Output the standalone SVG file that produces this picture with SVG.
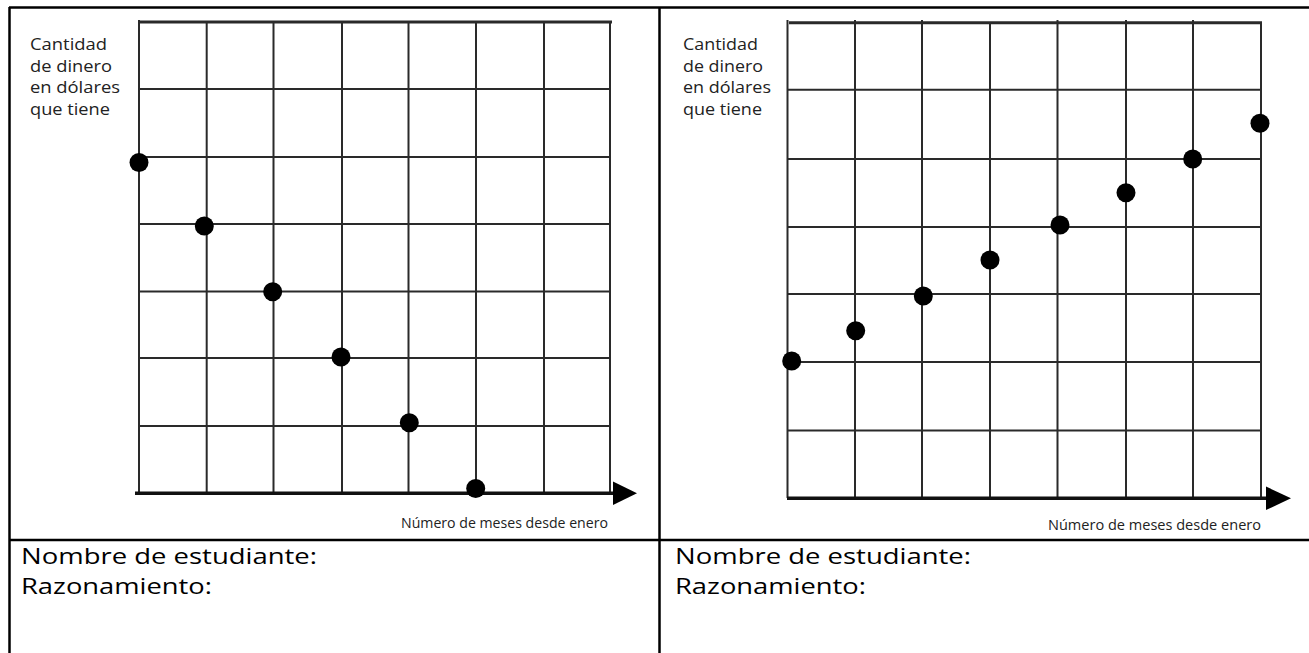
<svg xmlns="http://www.w3.org/2000/svg" width="1309" height="653" viewBox="0 0 1309 653">
<style>
.bg{fill:#ffffff}
.border{stroke:#000;stroke-width:2.5;fill:none}
.grid{stroke:#2a2a2a;stroke-width:2;fill:none}
.top{stroke:#2a2a2a;stroke-width:3;fill:none}
.axis{stroke:#111;stroke-width:3.5;fill:none}
.dot{fill:#000}
.lbl{font-family:"Open Sans","Noto Sans","DejaVu Sans",sans-serif;font-size:15.5px;fill:#222}
.xl{font-family:"Open Sans","Noto Sans","DejaVu Sans",sans-serif;font-size:14.5px;fill:#222}
.cell{font-family:"Open Sans","Noto Sans","DejaVu Sans",sans-serif;font-size:22px;fill:#000}
</style>
<rect class="bg" x="0" y="0" width="1309" height="653"/>

<g id="table">
<line class="border" x1="9" y1="7.5" x2="1309" y2="7.5"/>
<line class="border" x1="9.5" y1="7" x2="9.5" y2="653"/>
<line class="border" x1="659.5" y1="7" x2="659.5" y2="653"/>
<line class="border" x1="9" y1="540" x2="1309" y2="540"/>
</g>

<g id="graph-left">
<g id="grid-left">
<line class="top" x1="140" y1="22" x2="612" y2="22"/>
<line class="grid" x1="139" y1="89" x2="610" y2="89"/>
<line class="grid" x1="139" y1="157" x2="610" y2="157"/>
<line class="grid" x1="139" y1="224" x2="610" y2="224"/>
<line class="grid" x1="139" y1="291.5" x2="610" y2="291.5"/>
<line class="grid" x1="139" y1="358" x2="610" y2="358"/>
<line class="grid" x1="139" y1="426" x2="610" y2="426"/>
<line class="grid" x1="139" y1="20" x2="139" y2="493"/>
<line class="grid" x1="206.7" y1="22" x2="206.7" y2="493"/>
<line class="grid" x1="273.5" y1="22" x2="273.5" y2="493"/>
<line class="grid" x1="342" y1="22" x2="342" y2="493"/>
<line class="grid" x1="408.5" y1="22" x2="408.5" y2="493"/>
<line class="grid" x1="476" y1="22" x2="476" y2="493"/>
<line class="grid" x1="544" y1="22" x2="544" y2="493"/>
<line class="grid" x1="610" y1="22" x2="610" y2="493"/>
</g>
<g id="axis-left">
<line class="axis" x1="135" y1="493.3" x2="615" y2="493.3"/>
<path d="M613,481.5 L637,493.3 L613,505 Z" fill="#000"/>
</g>
<g id="dots-left">
<circle class="dot" cx="139" cy="162.5" r="9.5"/>
<circle class="dot" cx="204.3" cy="226" r="9.5"/>
<circle class="dot" cx="272.7" cy="291.7" r="9.5"/>
<circle class="dot" cx="341" cy="357" r="9.5"/>
<circle class="dot" cx="409.3" cy="422.7" r="9.5"/>
<circle class="dot" cx="475.7" cy="488.5" r="9.5"/>
</g>
<g id="labels-left">
<text class="lbl" x="30" y="50" textLength="77" lengthAdjust="spacingAndGlyphs">Cantidad</text>
<text class="lbl" x="30" y="71.5" textLength="82" lengthAdjust="spacingAndGlyphs">de dinero</text>
<text class="lbl" x="30" y="93" textLength="90" lengthAdjust="spacingAndGlyphs">en dólares</text>
<text class="lbl" x="30" y="114.5" textLength="80" lengthAdjust="spacingAndGlyphs">que tiene</text>
<text class="xl" x="608" y="528" text-anchor="end" textLength="207" lengthAdjust="spacingAndGlyphs">Número de meses desde enero</text>
</g>
</g>

<g id="graph-right">
<g id="grid-right">
<line class="top" x1="789" y1="22.7" x2="1262" y2="22.7"/>
<line class="grid" x1="788" y1="89.7" x2="1261" y2="89.7"/>
<line class="grid" x1="788" y1="159" x2="1261" y2="159"/>
<line class="grid" x1="788" y1="227" x2="1261" y2="227"/>
<line class="grid" x1="788" y1="294" x2="1261" y2="294"/>
<line class="grid" x1="788" y1="362" x2="1261" y2="362"/>
<line class="grid" x1="788" y1="430.5" x2="1261" y2="430.5"/>
<line class="grid" x1="787.5" y1="20" x2="787.5" y2="498"/>
<line class="grid" x1="855" y1="20" x2="855" y2="498"/>
<line class="grid" x1="922" y1="20" x2="922" y2="498"/>
<line class="grid" x1="990" y1="22" x2="990" y2="498"/>
<line class="grid" x1="1057.5" y1="20" x2="1057.5" y2="498"/>
<line class="grid" x1="1126" y1="20" x2="1126" y2="498"/>
<line class="grid" x1="1193" y1="20" x2="1193" y2="498"/>
<line class="grid" x1="1261" y1="22" x2="1261" y2="498"/>
</g>
<g id="axis-right">
<line class="axis" x1="787" y1="498.3" x2="1268" y2="498.3"/>
<path d="M1266,486.5 L1291,498.3 L1266,510 Z" fill="#000"/>
</g>
<g id="dots-right">
<circle class="dot" cx="791.7" cy="361" r="9.5"/>
<circle class="dot" cx="855.7" cy="330.7" r="9.5"/>
<circle class="dot" cx="923.3" cy="296" r="9.5"/>
<circle class="dot" cx="990" cy="260" r="9.5"/>
<circle class="dot" cx="1060" cy="225" r="9.5"/>
<circle class="dot" cx="1126" cy="192.7" r="9.5"/>
<circle class="dot" cx="1192.7" cy="159" r="9.5"/>
<circle class="dot" cx="1260" cy="123.3" r="9.5"/>
</g>
<g id="labels-right">
<text class="lbl" x="683" y="50" textLength="75" lengthAdjust="spacingAndGlyphs">Cantidad</text>
<text class="lbl" x="683" y="71.5" textLength="80" lengthAdjust="spacingAndGlyphs">de dinero</text>
<text class="lbl" x="683" y="93" textLength="88" lengthAdjust="spacingAndGlyphs">en dólares</text>
<text class="lbl" x="683" y="114.5" textLength="79" lengthAdjust="spacingAndGlyphs">que tiene</text>
<text class="xl" x="1261" y="530" text-anchor="end" textLength="213" lengthAdjust="spacingAndGlyphs">Número de meses desde enero</text>
</g>
</g>

<g id="cell-left">
<text class="cell" x="21" y="564" textLength="296" lengthAdjust="spacingAndGlyphs">Nombre de estudiante:</text>
<text class="cell" x="21" y="594" textLength="191" lengthAdjust="spacingAndGlyphs">Razonamiento:</text>
</g>
<g id="cell-right">
<text class="cell" x="675" y="564" textLength="296" lengthAdjust="spacingAndGlyphs">Nombre de estudiante:</text>
<text class="cell" x="675" y="594" textLength="191" lengthAdjust="spacingAndGlyphs">Razonamiento:</text>
</g>
</svg>
